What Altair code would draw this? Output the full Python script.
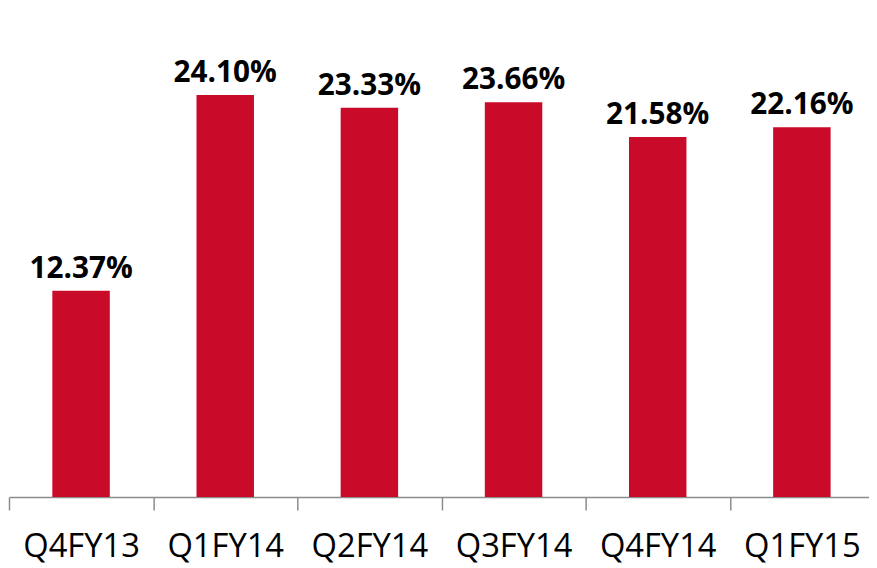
import altair as alt
import pandas as pd

quarters = ["Q4FY13", "Q1FY14", "Q2FY14", "Q3FY14", "Q4FY14", "Q1FY15"]
values = [12.37, 24.10, 23.33, 23.66, 21.58, 22.16]
labels = ["12.37%", "24.10%", "23.33%", "23.66%", "21.58%", "22.16%"]

df = pd.DataFrame({"quarter": quarters, "value": values, "label": labels})

x = alt.X(
    "quarter:N",
    sort=quarters,
    title=None,
    scale=alt.Scale(range=[0, 873], paddingInner=0, paddingOuter=0),
    axis=alt.Axis(
        labelAngle=0,
        labelFont="Open Sans",
        labelFontSize=33,
        labelColor="#000000",
        labelBaseline="alphabetic",
        labelPadding=47,
        tickBand="extent",
        tickSize=13,
        tickColor="#8C8C8C",
        domainColor="#8C8C8C",
        tickWidth=1.5,
        domainWidth=1.5,
        grid=False,
    ),
)
y = alt.Y("value:Q", axis=None, scale=alt.Scale(domain=[0, 29.16], nice=False, zero=True))

bars = alt.Chart(df).mark_bar(color="#C90A28", size=58).encode(x=x, y=y)
text = alt.Chart(df).mark_text(
    font="Open Sans", fontSize=30, fontWeight="bold", color="#000000",
    baseline="alphabetic", dy=-13
).encode(x=x, y=y, text="label:N")

chart = (bars + text).properties(
    width=868, height=491,
    autosize=alt.AutoSizeParams(type="none"),
    padding={"left": 1, "top": 0, "right": 0, "bottom": 69},
).configure_view(stroke=None)

chart.save("out.html", embed_options={"renderer": "svg", "actions": False})
